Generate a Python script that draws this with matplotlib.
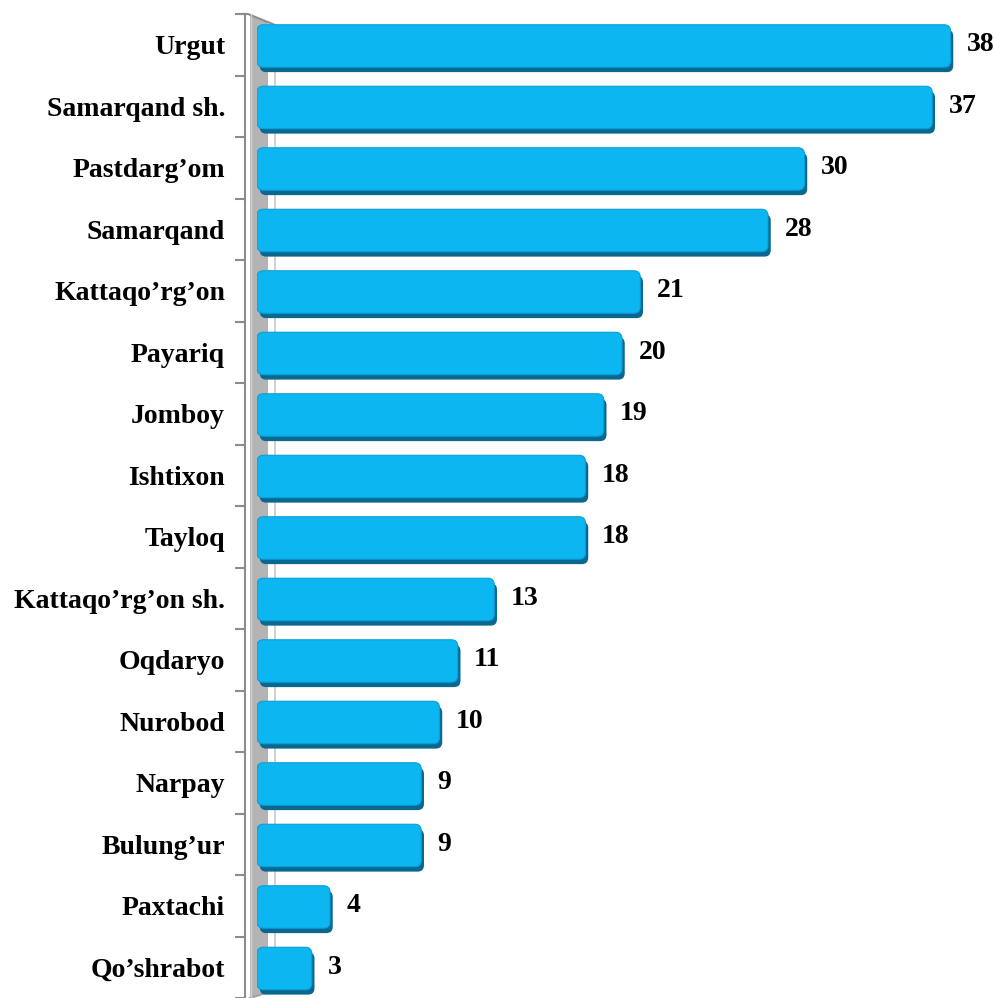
import matplotlib.pyplot as plt
import numpy as np
from matplotlib.patches import FancyBboxPatch, Polygon

districts = ["Urgut", "Samarqand sh.", "Pastdarg\u2019om", "Samarqand", "Kattaqo\u2019rg\u2019on",
             "Payariq", "Jomboy", "Ishtixon", "Tayloq", "Kattaqo\u2019rg\u2019on sh.",
             "Oqdaryo", "Nurobod", "Narpay", "Bulung\u2019ur", "Paxtachi", "Qo\u2019shrabot"]
values = [38, 37, 30, 28, 21, 20, 19, 18, 18, 13, 11, 10, 9, 9, 4, 3]

plt.rcParams['font.family'] = ['Liberation Serif', 'DejaVu Serif']

W, H = 994, 998
fig = plt.figure(figsize=(W / 100, H / 100), dpi=100)

# grey 3D wall, drawn in pixel coords
deco = fig.add_axes([0, 0, 1, 1], zorder=0)
deco.set_xlim(0, W)
deco.set_ylim(H, 0)
deco.axis("off")
deco.add_patch(Polygon([(250, 14), (268, 22), (268, 992), (250, 998)],
                       closed=True, facecolor="#b4b4b4", edgecolor="none"))
deco.plot([240, 248, 275], [14, 14, 25], color="#8c8c8c", lw=1.5)
deco.plot([250, 275], [998, 990], color="#a0a0a0", lw=1.5)
deco.plot([275, 275], [25, 990], color="#c8c8c8", lw=1.2)
deco.plot([251, 251], [14, 998], color="#d0d0d0", lw=1)

# main data axes
left_px = 257
top_px = 14
px_per_unit = 18.25
ax = fig.add_axes([left_px / W, 0, (W - left_px) / W, (H - top_px) / H], zorder=1)
ax.patch.set_alpha(0)
ax.set_xlim(0, (W - left_px) / px_per_unit)
n = len(values)
ax.set_ylim(n - 0.5, -0.5)

y_unit_px = (H - top_px) / n
aspect = px_per_unit / y_unit_px
h = 0.69
for i, v in enumerate(values):
    sh = FancyBboxPatch((0.15, i - h / 2 + 0.1), v, h,
                        boxstyle="round,pad=0,rounding_size=0.35",
                        mutation_aspect=aspect, facecolor="#0a6790",
                        edgecolor="none", zorder=2)
    ax.add_patch(sh)
    bar = FancyBboxPatch((0, i - h / 2 + 0.02), v, h,
                         boxstyle="round,pad=0,rounding_size=0.35",
                         mutation_aspect=aspect, facecolor="#0cb6f0",
                         edgecolor="#0a9fd6", lw=0.8, zorder=3)
    ax.add_patch(bar)
    ax.text(v + 0.9, i, str(v), ha="left", va="center",
            fontsize=20, fontweight="bold", color="black", zorder=4)

for s in ["top", "right", "bottom"]:
    ax.spines[s].set_visible(False)
ax.spines["left"].set_position(("outward", 9))
ax.spines["left"].set_color("#8c8c8c")
ax.spines["left"].set_linewidth(1.5)
ax.set_xticks([])
ax.set_yticks(np.arange(n))
ax.set_yticklabels(districts, fontsize=20, fontweight="bold")
ax.tick_params(axis="y", which="major", length=0, pad=14)
ax.set_yticks(np.arange(-0.5, n), minor=True)
ax.tick_params(axis="y", which="minor", length=7, width=1.5, color="#8c8c8c")

fig.savefig("out.png", dpi=100)
